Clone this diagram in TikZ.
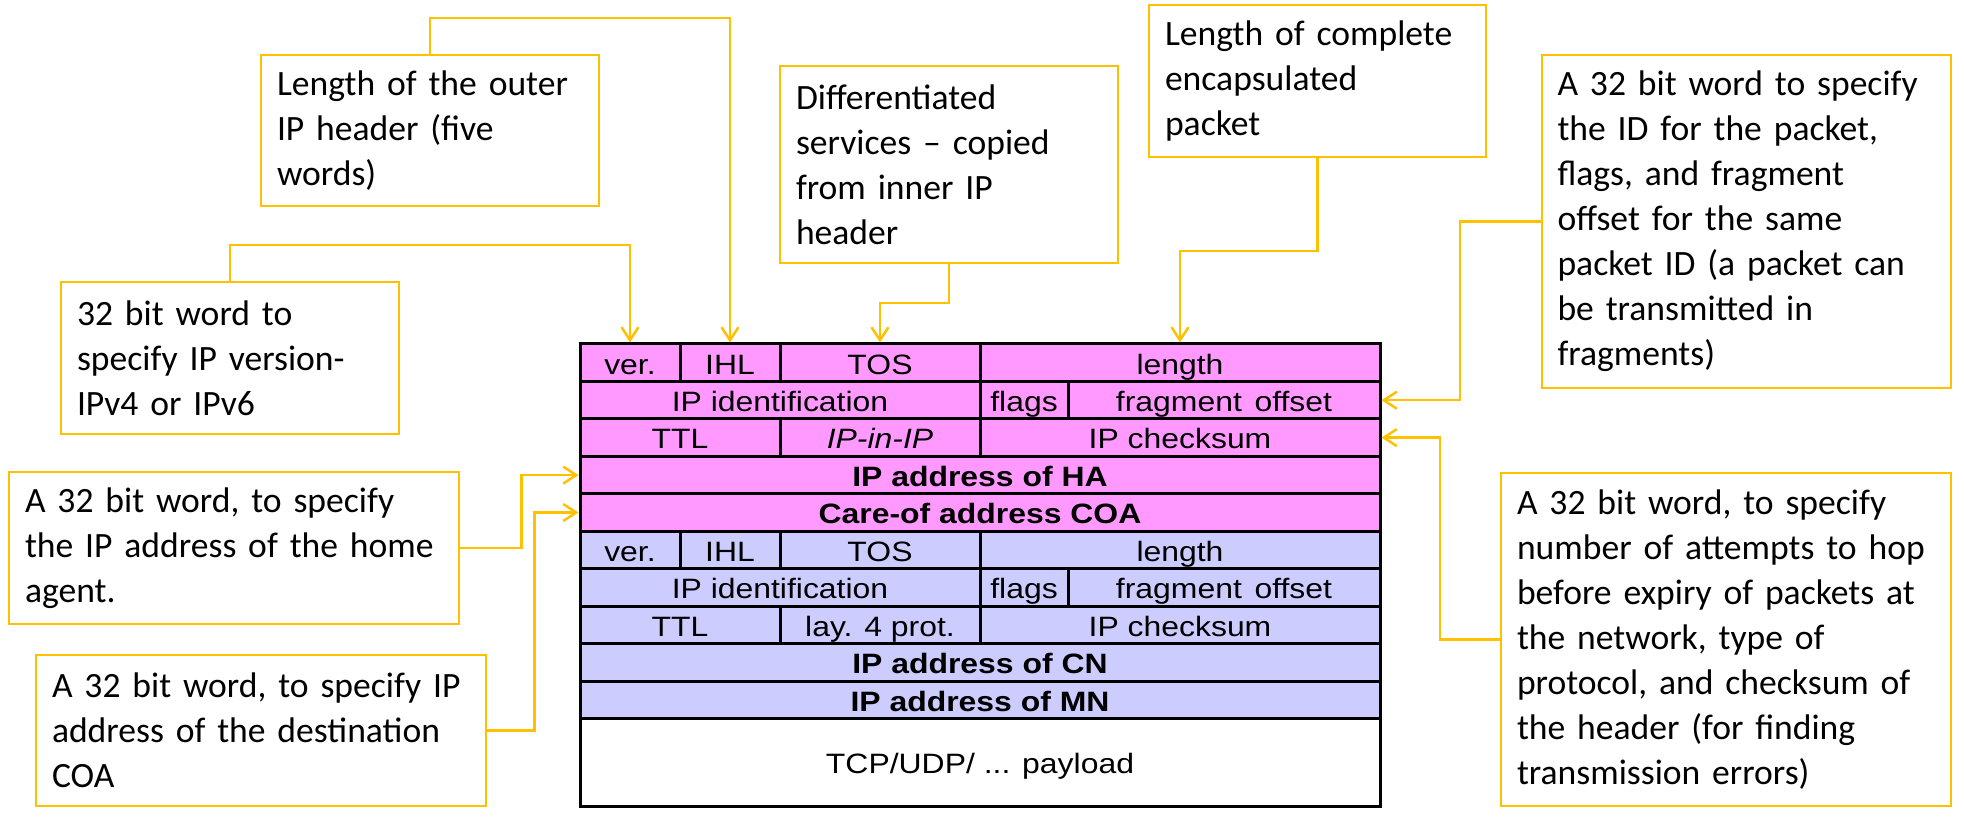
\documentclass[tikz,border=0pt]{standalone}
\usepackage{fontspec}
\setmainfont{Carlito}
\newfontfamily\tabfont[FakeStretch=1.14]{Liberation Sans}
\usetikzlibrary{arrows.meta}
\definecolor{gold}{HTML}{FFC000}
\definecolor{pinkc}{HTML}{FF99FF}
\definecolor{bluec}{HTML}{CCCCFF}
\begin{document}
\begin{tikzpicture}[x=1pt,y=-1pt,
  callout/.style={draw=gold, line width=2.5pt, inner sep=0pt, align=left,
    font=\fontsize{35.6}{45}\selectfont},
  conn/.style={draw=gold, line width=2.5pt,
    -{Straight Barb[length=13pt,width=17pt,line width=2.5pt]}},
  cell/.style={draw=black, line width=3pt, inner sep=0pt, text height=22.6pt,
    text depth=0pt, font=\tabfont\fontsize{28}{32}\selectfont,
    minimum height=37.45pt},
  pinkcell/.style={cell, fill=pinkc},
  bluecell/.style={cell, fill=bluec},
]
\useasboundingbox (0,0) rectangle (1964,821);

% ---- outer header (pink)
\node[pinkcell, minimum width=100pt] (c-ver) at (630,362.7) {ver.};
\node[pinkcell, minimum width=100pt] (c-ihl) at (730,362.7) {IHL};
\node[pinkcell, minimum width=200pt] (c-tos) at (880,362.7) {TOS};
\node[pinkcell, minimum width=400pt] (c-len) at (1180,362.7) {length};
\node[pinkcell, minimum width=400pt] (c-id) at (780,400.2) {IP identification};
\node[pinkcell, minimum width=88pt] (c-flags) at (1024,400.2) {flags};
\node[pinkcell, minimum width=312pt] (c-frag) at (1224,400.2) {fragment\hspace{0.45em}offset};
\node[pinkcell, minimum width=200pt] (c-ttl) at (680,437.6) {TTL};
\node[pinkcell, minimum width=200pt] (c-ipip) at (880,437.6) {\itshape IP-in-IP};
\node[pinkcell, minimum width=400pt] (c-chk) at (1180,437.6) {IP checksum};
\node[pinkcell, minimum width=800pt] (c-ha) at (980,475.1) {\bfseries IP address of HA};
\node[pinkcell, minimum width=800pt] (c-coa) at (980,512.5) {\bfseries Care-of address COA};

% ---- inner header (blue)
\node[bluecell, minimum width=100pt] (d-ver) at (630,550.0) {ver.};
\node[bluecell, minimum width=100pt] (d-ihl) at (730,550.0) {IHL};
\node[bluecell, minimum width=200pt] (d-tos) at (880,550.0) {TOS};
\node[bluecell, minimum width=400pt] (d-len) at (1180,550.0) {length};
\node[bluecell, minimum width=400pt] (d-id) at (780,587.4) {IP identification};
\node[bluecell, minimum width=88pt] (d-flags) at (1024,587.4) {flags};
\node[bluecell, minimum width=312pt] (d-frag) at (1224,587.4) {fragment\hspace{0.45em}offset};
\node[bluecell, minimum width=200pt] (d-ttl) at (680,624.9) {TTL};
\node[bluecell, minimum width=200pt] (d-prot) at (880,624.9) {lay. 4 prot.};
\node[bluecell, minimum width=400pt] (d-chk) at (1180,624.9) {IP checksum};
\node[bluecell, minimum width=800pt] (d-cn) at (980,662.3) {\bfseries IP address of CN};
\node[bluecell, minimum width=800pt] (d-mn) at (980,699.8) {\bfseries IP address of MN};

% ---- payload
\node[cell, fill=white, minimum width=800pt, minimum height=87.5pt] (pay) at (980,762.25) {TCP/UDP/ ... payload};

% ---- callouts
\node[callout, minimum width=338pt, minimum height=151pt, text width=306pt] (lenouter) at (430,130.5)
  {\mbox{Length of the outer}\\\mbox{IP header (five}\\\mbox{words)}};
\node[callout, minimum width=338pt, minimum height=152pt, text width=306pt] (ver32) at (230,358)
  {\mbox{32 bit word to}\\\mbox{specify IP version-}\\\mbox{IPv4 or IPv6}};
\node[callout, minimum width=338pt, minimum height=197pt, text width=306pt] (diff) at (949,164.5)
  {\mbox{Differentiated}\\\mbox{services -- copied}\\\mbox{from inner IP}\\\mbox{header}};
\node[callout, minimum width=337pt, minimum height=152pt, text width=305pt] (lencomp) at (1317.5,81)
  {\mbox{Length of complete}\\\mbox{encapsulated}\\\mbox{packet}};
\node[callout, minimum width=409pt, minimum height=333pt, text width=378pt] (idbox) at (1746.5,221.5)
  {\mbox{A 32 bit word to specify}\\\mbox{the ID for the packet,}\\\mbox{flags, and fragment}\\\mbox{offset for the same}\\\mbox{packet ID (a packet can}\\\mbox{be transmitted in}\\\mbox{fragments)}};
\node[callout, minimum width=450pt, minimum height=152pt, text width=418pt] (habox) at (234,548)
  {\mbox{A 32 bit word, to specify}\\\mbox{the IP address of the home}\\\mbox{agent.}};
\node[callout, minimum width=450pt, minimum height=151pt, text width=418pt] (coabox) at (261,730.5)
  {\mbox{A 32 bit word, to specify IP}\\\mbox{address of the destination}\\\mbox{COA}};
\node[callout, minimum width=450pt, minimum height=333pt, text width=418pt] (ttlbox) at (1726,639.5)
  {\mbox{A 32 bit word, to specify}\\\mbox{number of attempts to hop}\\\mbox{before expiry of packets at}\\\mbox{the network, type of}\\\mbox{protocol, and checksum of}\\\mbox{the header (for finding}\\\mbox{transmission errors)}};

% ---- connectors
\draw[conn] (lenouter.north) -- (lenouter.north |- 0,18) -| (c-ihl.north);
\draw[conn] (ver32.north) -- (ver32.north |- 0,245) -| (c-ver.north);
\draw[conn] (diff.south) -- (diff.south |- 0,303) -| (c-tos.north);
\draw[conn] (lencomp.south) -- (lencomp.south |- 0,251) -| (c-len.north);
\draw[conn] (idbox.west) -- ++(-81,0) |- (c-frag.east);
\draw[conn] (ttlbox.west) -- ++(-60,0) |- (c-chk.east);
\draw[conn] (habox.east) -- ++(61,0) |- (c-ha.west);
\draw[conn] (coabox.east) -- ++(47,0) |- (c-coa.west);
\end{tikzpicture}
\end{document}
